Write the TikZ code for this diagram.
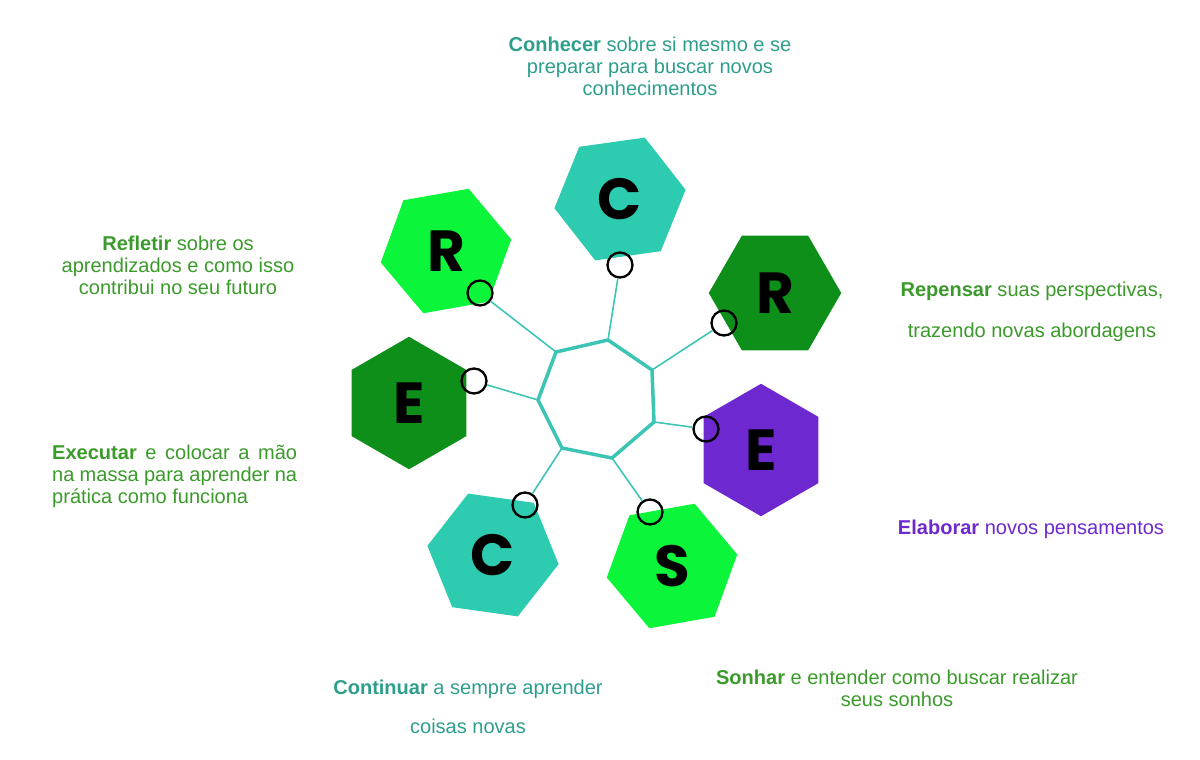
\documentclass[tikz,border=0pt]{standalone}
\usepackage{fontspec}
\setmainfont{Liberation Sans}
\newfontfamily\letterfont{Poppins}
\usetikzlibrary{shapes.geometric}
\definecolor{teal1}{HTML}{2DCBB0}
\definecolor{tealtx}{HTML}{2E9E8C}
\definecolor{dgreen}{HTML}{0E8F1A}
\definecolor{bgreen}{HTML}{0BF53A}
\definecolor{purp}{HTML}{6D28D0}
\definecolor{gtx}{HTML}{3A9A2A}
\definecolor{spoke}{HTML}{3CC4B4}
\begin{document}
\begin{tikzpicture}[x=0.02cm,y=-0.02cm,
 hex/.style={regular polygon,regular polygon sides=6,minimum size=2.65cm,inner sep=0pt,font=\letterfont\bfseries\fontsize{33}{33}\selectfont},
 dot/.style={circle,draw=black,line width=1.3pt,minimum size=0.5cm,inner sep=0pt},
 lab/.style={font=\fontsize{11.4}{12.6}\selectfont,align=center},
 sp/.style={draw=spoke,line width=0.9pt}]
\useasboundingbox (0,0) rectangle (1200,760);
% hexagons
\node[hex,fill=teal1,rotate=8] (h1) at (620,199) {\rotatebox{-8}{C}};
\node[hex,fill=dgreen,rotate=0] (h2) at (775,293) {R};
\node[hex,fill=purp,rotate=30] (h3) at (761,450) {\rotatebox{-30}{E}};
\node[hex,fill=bgreen,rotate=10] (h4) at (672,566) {\rotatebox{-10}{S}};
\node[hex,fill=teal1,rotate=-8] (h5) at (493,555) {\rotatebox{8}{C}};
\node[hex,fill=dgreen,rotate=30] (h6) at (409,403) {\rotatebox{-30}{E}};
\node[hex,fill=bgreen,rotate=10] (h7) at (446,251) {\rotatebox{-10}{R}};
% heptagon
\coordinate (v1) at (556,352);
\coordinate (v2) at (608,340);
\coordinate (v3) at (652,370);
\coordinate (v4) at (654,422);
\coordinate (v5) at (612,458);
\coordinate (v6) at (562,448);
\coordinate (v7) at (538,400);
\draw[draw=spoke,line width=2pt] (v1)--(v2)--(v3)--(v4)--(v5)--(v6)--(v7)--cycle;
% circles
\node[dot] (c1) at (620,265) {};
\node[dot] (c2) at (724,323) {};
\node[dot] (c3) at (706,429) {};
\node[dot] (c4) at (650,512) {};
\node[dot] (c5) at (525,505) {};
\node[dot] (c6) at (474,381) {};
\node[dot] (c7) at (480,293) {};
\draw[sp] (v2)--(c1); \draw[sp] (v3)--(c2); \draw[sp] (v4)--(c3);
\draw[sp] (v5)--(c4); \draw[sp] (v6)--(c5); \draw[sp] (v7)--(c6); \draw[sp] (v1)--(c7);
% labels
\node[lab,text=tealtx] (t1) at (650,66) {\textbf{Conhecer} sobre si mesmo e se\\preparar para buscar novos\\conhecimentos};
\node[lab,text=gtx] (t7) at (178,265) {\textbf{Refletir} sobre os\\aprendizados e como isso\\contribui no seu futuro};
\node[lab,text=gtx] (t2a) at (1032,291) {\textbf{Repensar} suas perspectivas,};
\node[lab,text=gtx] (t2b) at (1032,332) {trazendo novas abordagens};
\node[lab,text=gtx,align=justify,text width=4.9cm,anchor=west] (t6) at (46,476) {\textbf{Executar} e colocar a mão na massa para aprender na prática como funciona};
\node[lab,text=purp] (t3) at (1031,529) {\textbf{Elaborar} novos pensamentos};
\node[lab,text=gtx] (t4) at (897,688) {\textbf{Sonhar} e entender como buscar realizar\\seus sonhos};
\node[lab,text=tealtx] (t5a) at (468,689) {\textbf{Continuar} a sempre aprender};
\node[lab,text=tealtx] (t5b) at (468,726) {coisas novas};
\end{tikzpicture}
\end{document}
